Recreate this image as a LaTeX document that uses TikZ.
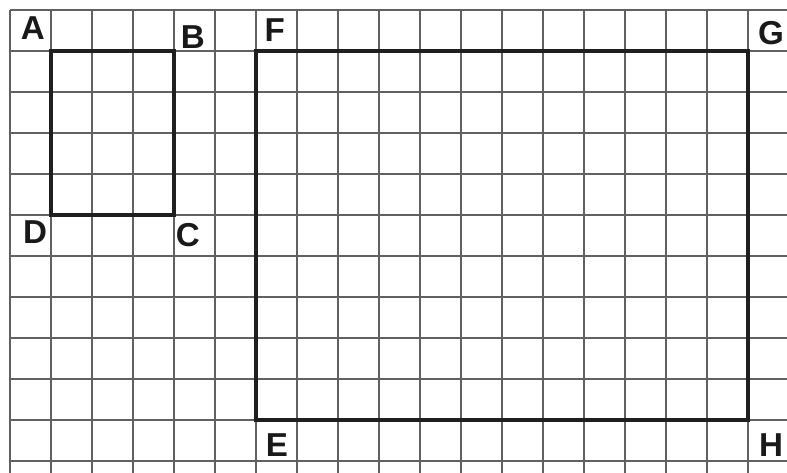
\documentclass[tikz,border=0pt]{standalone}
\usepackage{fontspec}
\setmainfont{Liberation Sans}
\usepackage{tikz}
\usetikzlibrary{positioning}

\begin{document}
\begin{tikzpicture}[font=\fontsize{23}{23}\selectfont\bfseries]
        % Setup the styles for the grid, the rectangles and the letters
        \tikzset{grid style/.style={draw=black!62, line width=1.6pt},
                 rect style/.style={draw=black!88, line width=3.2pt, line join=miter},
                 letter style/.style={inner sep=0pt, text=black!90}}

        \useasboundingbox (-0.244,-11.29) rectangle (18.951,0.244);

        % Draw the squared paper
        \draw[grid style] (0,-11.29) grid[step=1] (18.951,0);

        % Corners of the two rectangles
        \coordinate (a) at (1,-1);
        \coordinate (b) at (4,-1);
        \coordinate (c) at (4,-5);
        \coordinate (d) at (1,-5);
        \coordinate (f) at (6,-1);
        \coordinate (g) at (18,-1);
        \coordinate (h) at (18,-10);
        \coordinate (e) at (6,-10);

        % Draw the rectangles
        \draw[rect style] (a) -- (b) -- (c) -- (d) -- cycle;
        \draw[rect style] (f) -- (g) -- (h) -- (e) -- cycle;

        % Draw the letters
        \node[letter style] at (0.56,-0.44)  (la) {A};
        \node[letter style] at (4.46,-0.66)  (lb) {B};
        \node[letter style] at (4.34,-5.49)  (lc) {C};
        \node[letter style] at (0.61,-5.41)  (ld) {D};
        \node[letter style] at (6.46,-0.49)  (lf) {F};
        \node[letter style] at (18.56,-0.56) (lg) {G};
        \node[letter style] at (6.51,-10.61) (le) {E};
        \node[letter style] at (18.56,-10.61) (lh) {H};
\end{tikzpicture}
\end{document}
